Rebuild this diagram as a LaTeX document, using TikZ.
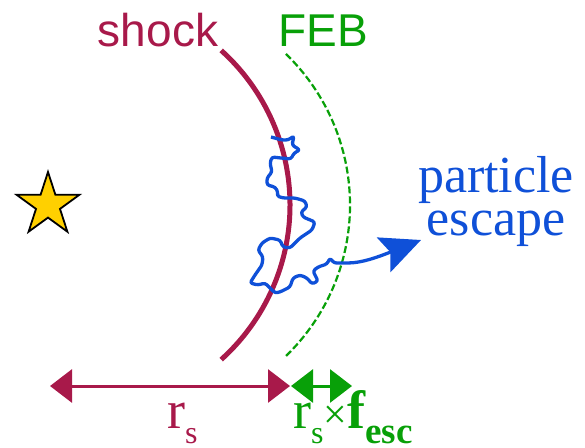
\documentclass[tikz,border=0pt]{standalone}
\usepackage{fontspec}
\setmainfont{Liberation Serif}
\newfontfamily\labelsans{Liberation Sans}
\usepackage{xcolor}
\usetikzlibrary{arrows.meta,shapes.geometric,positioning}

\definecolor{shockred}{HTML}{A8194A}
\definecolor{febgreen}{HTML}{08A008}
\definecolor{escblue}{HTML}{0F50D8}
\definecolor{stargold}{HTML}{FFD000}

\begin{document}
\begin{tikzpicture}[
    x=1pt, y=-1pt,
    front/.style={line width=5pt, shockred},
    boundary/.style={line width=2.2pt, febgreen, dash pattern=on 7pt off 3pt},
    walk/.style={line width=3.3pt, escblue, rounded corners=2.5pt, line join=round},
    span/.style={line width=3pt, {Triangle[length=22pt,width=33pt]}-{Triangle[length=22pt,width=33pt]}},
    title/.style={font=\labelsans\fontsize{46}{46}\selectfont, inner sep=0, anchor=base}
]
    \useasboundingbox (0,0) rectangle (585,447);

    % Star
    \node[star, star points=5, star point ratio=2.618, minimum size=66pt, inner sep=0,
          draw=black, line width=1.8pt, fill=stargold] (star) at (48,205) {};

    % Shock and free escape boundary
    \draw[front] (82,205) ++(-48:208) arc[start angle=-48, end angle=48, radius=208];
    \draw[boundary] (140,205) ++(-46:210) arc[start angle=-46, end angle=46, radius=210];

    \node[title, text=shockred] (shock) at (158,46) {shock};
    \node[title, text=febgreen] (feb) at (323,46) {FEB};

    % Particle random walk
    \coordinate (walkstart) at (271,137);
    \coordinate (esc) at (421,240);
    \draw[walk, -{Stealth[length=40pt,width=37pt,inset=7pt]}] (walkstart)
        -- (282,140) -- (288,140) -- (294,136) -- (292,145) -- (300,150) -- (294,153)
        -- (291,159) -- (281,158) -- (272,157) -- (270,163) -- (272,172) -- (267,178)
        -- (267,185) -- (275,187) -- (278,192) -- (277,196) -- (283,198) -- (295,198)
        -- (305,201) -- (307,207) -- (301,212) -- (303,217) -- (315,222) -- (312,230)
        -- (300,238) -- (290,248) -- (283,247) -- (280,240) -- (270,238) -- (262,243)
        -- (258,250) -- (263,257) -- (262,265) -- (255,275) -- (250,283) -- (258,285)
        -- (265,283) -- (270,288) -- (275,293) -- (280,292) -- (290,287) -- (293,278)
        -- (300,275) -- (307,278) -- (312,284) -- (318,281) -- (313,271) -- (318,267)
        -- (327,264) -- (330,258) -- (334,263) -- (345,263)
        .. controls (362,263) and (378,257) .. (esc);

    \node[text=escblue, align=center, font=\fontsize{52}{43}\selectfont, inner sep=0, anchor=north]
        (escape) at (496,156) {particle\\escape};

    % Radii
    \coordinate (origin) at (50,386);
    \coordinate (rshock) at (290,386);
    \coordinate (rfeb) at (352,386);
    \draw[span, shockred] (origin) -- (rshock);
    \draw[span, febgreen] ([xshift=1pt]rshock) -- (rfeb);

    \node[text=shockred, font=\fontsize{54}{54}\selectfont, inner sep=0, anchor=base west] (rslabel)
        at (167,428) {r\raisebox{-15pt}{\fontsize{32}{32}\selectfont s}};
    \node[text=febgreen, font=\fontsize{54}{54}\selectfont, inner sep=0, anchor=base west] (esclabel)
        at (293,428) {r\raisebox{-15pt}{\fontsize{32}{32}\selectfont s}{\fontsize{42}{42}\selectfont ×}\textbf{f\raisebox{-15pt}{\fontsize{37}{37}\selectfont esc}}};
\end{tikzpicture}
\end{document}
